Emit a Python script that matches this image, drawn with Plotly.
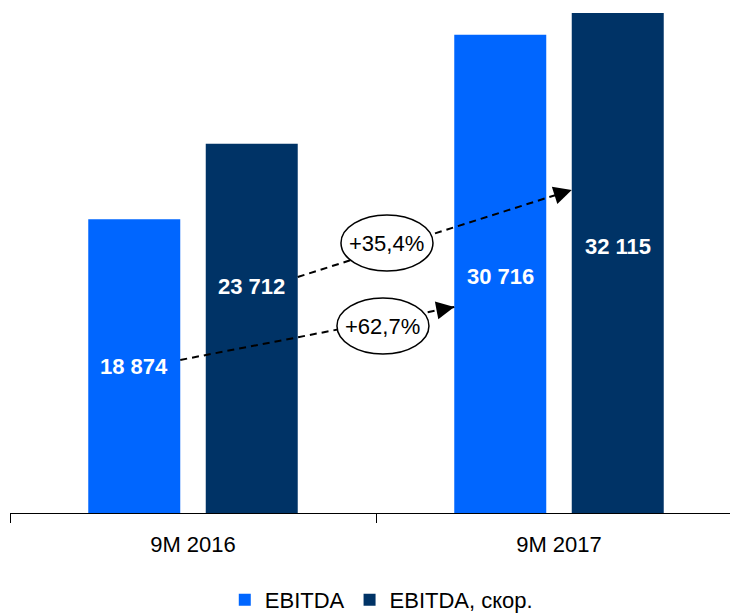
import plotly.graph_objects as go

# ---- data ----
categories = ["9M 2016", "9M 2017"]
ebitda = [18874, 30716]
ebitda_adj = [23712, 32115]
series_names = ["EBITDA", "EBITDA, скор."]
growth_labels = ["+62,7%", "+35,4%"]  # EBITDA growth, adjusted EBITDA growth

# ---- styles / layout constants ----
C_LIGHT = "#0066FF"
C_DARK = "#003366"
FONT = "Liberation Sans, Arial, sans-serif"
BARGAP = 0.358
BARGROUPGAP = 0.217
PX_PER_UNIT = 0.015569
PLOT_H = 505
Y_MAX = PLOT_H / PX_PER_UNIT
# label vertical positions (data units) for bar value labels
label_y_light = [9380, 15220]
label_y_dark = [14520, 17090]


def fmt(v):
    return f"{v:,}".replace(",", " ")


slot = (1 - BARGAP) / 2
half_bar = slot * (1 - BARGROUPGAP) / 2
off_light = -slot / 2
off_dark = slot / 2

fig = go.Figure()
fig.add_trace(go.Bar(x=categories, y=ebitda, name=series_names[0],
                     marker=dict(color=C_LIGHT, line=dict(width=0))))
fig.add_trace(go.Bar(x=categories, y=ebitda_adj, name=series_names[1],
                     marker=dict(color=C_DARK, line=dict(width=0))))

annotations = []
# value labels
for i in range(len(categories)):
    annotations.append(dict(x=i + off_light, y=label_y_light[i], xref="x", yref="y",
                            text=f"<b>{fmt(ebitda[i])}</b>", showarrow=False,
                            font=dict(family=FONT, size=22, color="white")))
    annotations.append(dict(x=i + off_dark, y=label_y_dark[i], xref="x", yref="y",
                            text=f"<b>{fmt(ebitda_adj[i])}</b>", showarrow=False,
                            font=dict(family=FONT, size=22, color="white")))

# growth arrows: from right edge of 2016 bar to left edge of 2017 bar
arrows = [
    # (x0, y0, x1, y1, ellipse center x, ellipse center y, label)
    (0 + off_light + half_bar, 9830, 1 + off_light - half_bar, 13230, 0.519, 12010, growth_labels[0]),
    (0 + off_dark + half_bar, 15160, 1 + off_dark - half_bar, 20750, 0.530, 17340, growth_labels[1]),
]

shapes = []
for x0, y0, x1, y1, ex, ey, lab in arrows:
    shapes.append(dict(type="line", xref="x", yref="y", x0=x0, y0=y0, x1=x1, y1=y1,
                       line=dict(color="black", width=2, dash="7px,5px"), layer="above"))
    t = 0.06
    annotations.append(dict(x=x1, y=y1, ax=x1 - t * (x1 - x0), ay=y1 - t * (y1 - y0),
                            xref="x", yref="y", axref="x", ayref="y",
                            showarrow=True, arrowhead=2, arrowsize=1.8, arrowwidth=2,
                            arrowcolor="black", standoff=0, text=""))
for x0, y0, x1, y1, ex, ey, lab in arrows:
    shapes.append(dict(type="circle", xref="x", yref="y", xsizemode="pixel", ysizemode="pixel",
                       xanchor=ex, yanchor=ey, x0=-46, x1=46, y0=-28, y1=28,
                       line=dict(color="black", width=1.5), fillcolor="white", layer="above"))
    annotations.append(dict(x=ex, y=ey, xref="x", yref="y", text=lab, showarrow=False,
                            font=dict(family=FONT, size=22, color="black")))

fig.update_layout(
    width=730, height=605,
    margin=dict(l=2, r=0, t=0, b=100),
    paper_bgcolor="white", plot_bgcolor="white",
    barmode="group", bargap=BARGAP, bargroupgap=BARGROUPGAP,
    font=dict(family=FONT, size=22, color="black"),
    showlegend=True,
    legend=dict(orientation="h", xref="paper", x=0.51, xanchor="center",
                yref="container", y=0.0215, yanchor="middle",
                font=dict(family=FONT, size=22, color="black"),
                itemwidth=30, tracegroupgap=0),
    shapes=shapes, annotations=annotations,
)
fig.update_xaxes(type="category", range=[-0.5, -0.5 + 728 / 366],
                 showline=True, linecolor="black", linewidth=1,
                 ticks="outside", tickson="boundaries", ticklen=9, tickcolor="black", tickwidth=1,
                 ticklabelstandoff=12,
                 showgrid=False, zeroline=False,
                 tickfont=dict(family=FONT, size=22, color="black"))
fig.update_yaxes(visible=False, range=[0, Y_MAX], showgrid=False, zeroline=False)

fig.write_html("out.html")
